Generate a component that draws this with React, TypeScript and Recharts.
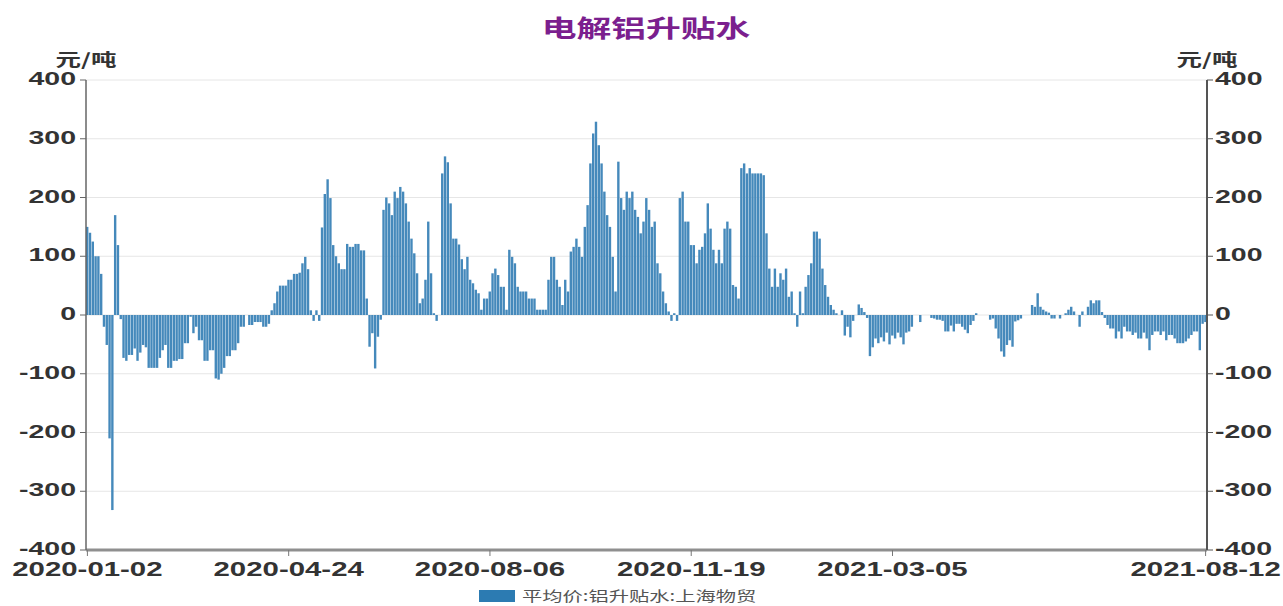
import React from 'react';
import { BarChart, Bar, XAxis, YAxis, CartesianGrid } from 'recharts';

const TITLE = '电解铝升贴水';
const UNIT = '元/吨';
const SERIES_NAME = '平均价:铝升贴水:上海物贸';

// x axis shows only a handful of dates, at these trading-day positions
const TICK_INDEX = [0, 72, 144, 216, 288, 400];
const TICK_LABELS = ['2020-01-02', '2020-04-24', '2020-08-06', '2020-11-19', '2021-03-05', '2021-08-12'];
const Y_TICKS = [-400, -300, -200, -100, 0, 100, 200, 300, 400];

// 元/吨, one value per trading day (null = no quote)
const PREMIUM: (number | null)[] = [
  150, 140, 125, 100, 100, 70, -20, -51, -210, -332,
  170, 119, -7, -73, -78, -68, -68, -57, -78, -64,
  -51, -55, -90, -90, -90, -90, -73, -60, -51, -90,
  -90, -78, -78, -75, -75, -48, -48, -3, -31, -20,
  -43, -43, -78, -78, -60, -60, -108, -110, -100, -90,
  -70, -70, -60, -60, -48, -20, -20, null, -17, -17,
  -12, -12, -12, -20, -20, -15, 8, 20, 40, 50,
  50, 50, 60, 60, 70, 70, 72, 88, 99, 78,
  8, -10, 8, -10, 149, 206, 231, 199, 119, 100,
  88, 78, 78, 121, 116, 116, 121, 121, 110, 110,
  28, -54, -31, -91, -37, -8, 179, 200, 190, 170,
  210, 199, 218, 210, 190, 159, 130, 105, 71, 20,
  28, 60, 159, 71, 3, -10, null, 241, 270, 260,
  190, 130, 130, 120, 95, 78, 99, 60, 54, 43,
  37, 9, 28, 28, 40, 71, 79, 68, 48, 48,
  9, 111, 99, 88, 48, 40, 40, 40, 28, 28,
  28, 9, 9, 9, 9, 60, 99, 99, 60, 48,
  17, 60, 40, 108, 116, 130, 116, 99, 150, 187,
  258, 309, 329, 289, 258, 210, 170, 150, 99, 40,
  261, 199, 179, 210, 199, 210, 179, 167, 139, 159,
  199, 179, 150, 159, 88, 71, 40, 20, 6, -10,
  3, -10, 199, 210, 159, 159, 119, 119, 88, 111,
  116, 139, 190, 147, 111, 88, 111, 88, 147, 159,
  147, 51, 48, 28, 250, 258, 241, 250, 241, 241,
  241, 241, 238, 139, 79, 48, 79, 48, 71, 60,
  79, 31, 40, 3, -20, 40, 3, 48, 68, 88,
  142, 142, 130, 79, 51, 31, 17, 9, 3, null,
  8, -35, -20, -38, -10, null, 18, 12, 5, -5,
  -70, -55, -40, -48, -38, -45, -30, -50, -35, -40,
  -30, -38, -50, -30, -28, -20, null, null, -12, null,
  null, null, -5, -6, -8, -8, -10, -28, -28, -18,
  -28, -15, -15, -20, -25, -31, -17, -10, 3, null,
  null, null, null, -8, -6, -23, -40, -62, -71, -51,
  -43, -54, -11, -9, -6, null, null, null, 17, 14,
  37, 14, 9, 6, 4, -6, -6, null, -6, null,
  3, 9, 14, 6, null, -20, 6, null, 14, 25,
  20, 25, 25, 5, -5, -17, -23, -23, -40, -28,
  -40, -20, -28, -28, -34, -30, -40, -40, -30, -40,
  -60, -34, -28, -28, -34, -28, -43, -34, -34, -40,
  -48, -48, -48, -45, -40, -34, -28, -28, -60, -15,
  -12,
];

const data = PREMIUM.map((v, i) => ({ day: i, value: v }));

const W = 1283;
const H = 606;
const NUM_FONT = "'Liberation Sans', Arial, sans-serif";
const CJK_FONT = "'Noto Sans CJK SC', sans-serif";
const BAR_COLOR = '#4589bb';

const labelFor = (i: number) => {
  const k = TICK_INDEX.indexOf(i);
  return k >= 0 ? TICK_LABELS[k] : '';
};

// the source image is stretched sideways, so labels get a horizontal scale
const YTick = (props: any) => {
  const { x, y, payload, textAnchor } = props;
  return (
    <g transform={`translate(${x},${y}) scale(1.5,1)`}>
      <text x={0} y={0} dy={5} textAnchor={textAnchor} fill="#333" fontSize={19}
        fontWeight="bold" fontFamily={NUM_FONT}>
        {payload.value}
      </text>
    </g>
  );
};

const XTick = (props: any) => {
  const { x, y, payload } = props;
  return (
    <g transform={`translate(${x},${y}) scale(1.4,1)`}>
      <text x={0} y={0} dy={19} textAnchor="middle" fill="#333" fontSize={21}
        fontWeight="bold" fontFamily={NUM_FONT}>
        {labelFor(payload.value)}
      </text>
    </g>
  );
};

const Stretched = ({ x, y, sx, anchor, children, ...rest }: any) => (
  <g transform={`translate(${x},${y}) scale(${sx},1)`}>
    <text x={0} y={0} textAnchor={anchor} {...rest}>{children}</text>
  </g>
);

export default function App() {
  return (
    <div style={{ position: 'absolute', left: 0, top: 0, width: W, height: H, background: '#fff' }}>
      <BarChart width={W} height={H} data={data} barSize={2.4}
        margin={{ top: 80, right: 6, bottom: 26, left: 16 }}>
        <CartesianGrid yAxisId="left" vertical={false} stroke="#e6e6e6" />
        <XAxis dataKey="day" type="category" ticks={TICK_INDEX} interval={0}
          height={30} tick={<XTick />} tickSize={6} tickMargin={1}
          axisLine={{ stroke: '#8f8f8f', strokeWidth: 3 }} tickLine={{ stroke: '#777' }} />
        <YAxis yAxisId="left" orientation="left" width={70} domain={[-400, 400]}
          ticks={Y_TICKS} interval={0} tick={<YTick />} tickSize={6} tickMargin={4}
          axisLine={{ stroke: '#666', strokeWidth: 1.5 }} tickLine={{ stroke: '#666' }} />
        <YAxis yAxisId="right" orientation="right" width={70} domain={[-400, 400]}
          dataKey="value" allowDataOverflow type="number"
          ticks={Y_TICKS} interval={0} tick={<YTick />} tickSize={6} tickMargin={2}
          axisLine={{ stroke: '#555', strokeWidth: 2 }} tickLine={{ stroke: '#555' }} />
        <Bar yAxisId="left" dataKey="value" name={SERIES_NAME} fill={BAR_COLOR}
          isAnimationActive={false} />
      </BarChart>
      <svg width={W} height={H} style={{ position: 'absolute', left: 0, top: 0, pointerEvents: 'none' }}>
        <Stretched x={646} y={37} sx={1.45} anchor="middle" fill="#7b1f8e" fontSize={24}
          fontWeight="bold" fontFamily={CJK_FONT}>{TITLE}</Stretched>
        <Stretched x={86} y={66} sx={1.5} anchor="middle" fill="#333" fontSize={17}
          fontWeight="bold" fontFamily={CJK_FONT}>{UNIT}</Stretched>
        <Stretched x={1207} y={66} sx={1.5} anchor="middle" fill="#333" fontSize={17}
          fontWeight="bold" fontFamily={CJK_FONT}>{UNIT}</Stretched>
        <rect x={479} y={590} width={36} height={12} fill="#2c7bb2" />
        <Stretched x={522} y={601} sx={1.45} anchor="start" fill="#555" fontSize={14}
          fontFamily={CJK_FONT}>{SERIES_NAME}</Stretched>
      </svg>
    </div>
  );
}
